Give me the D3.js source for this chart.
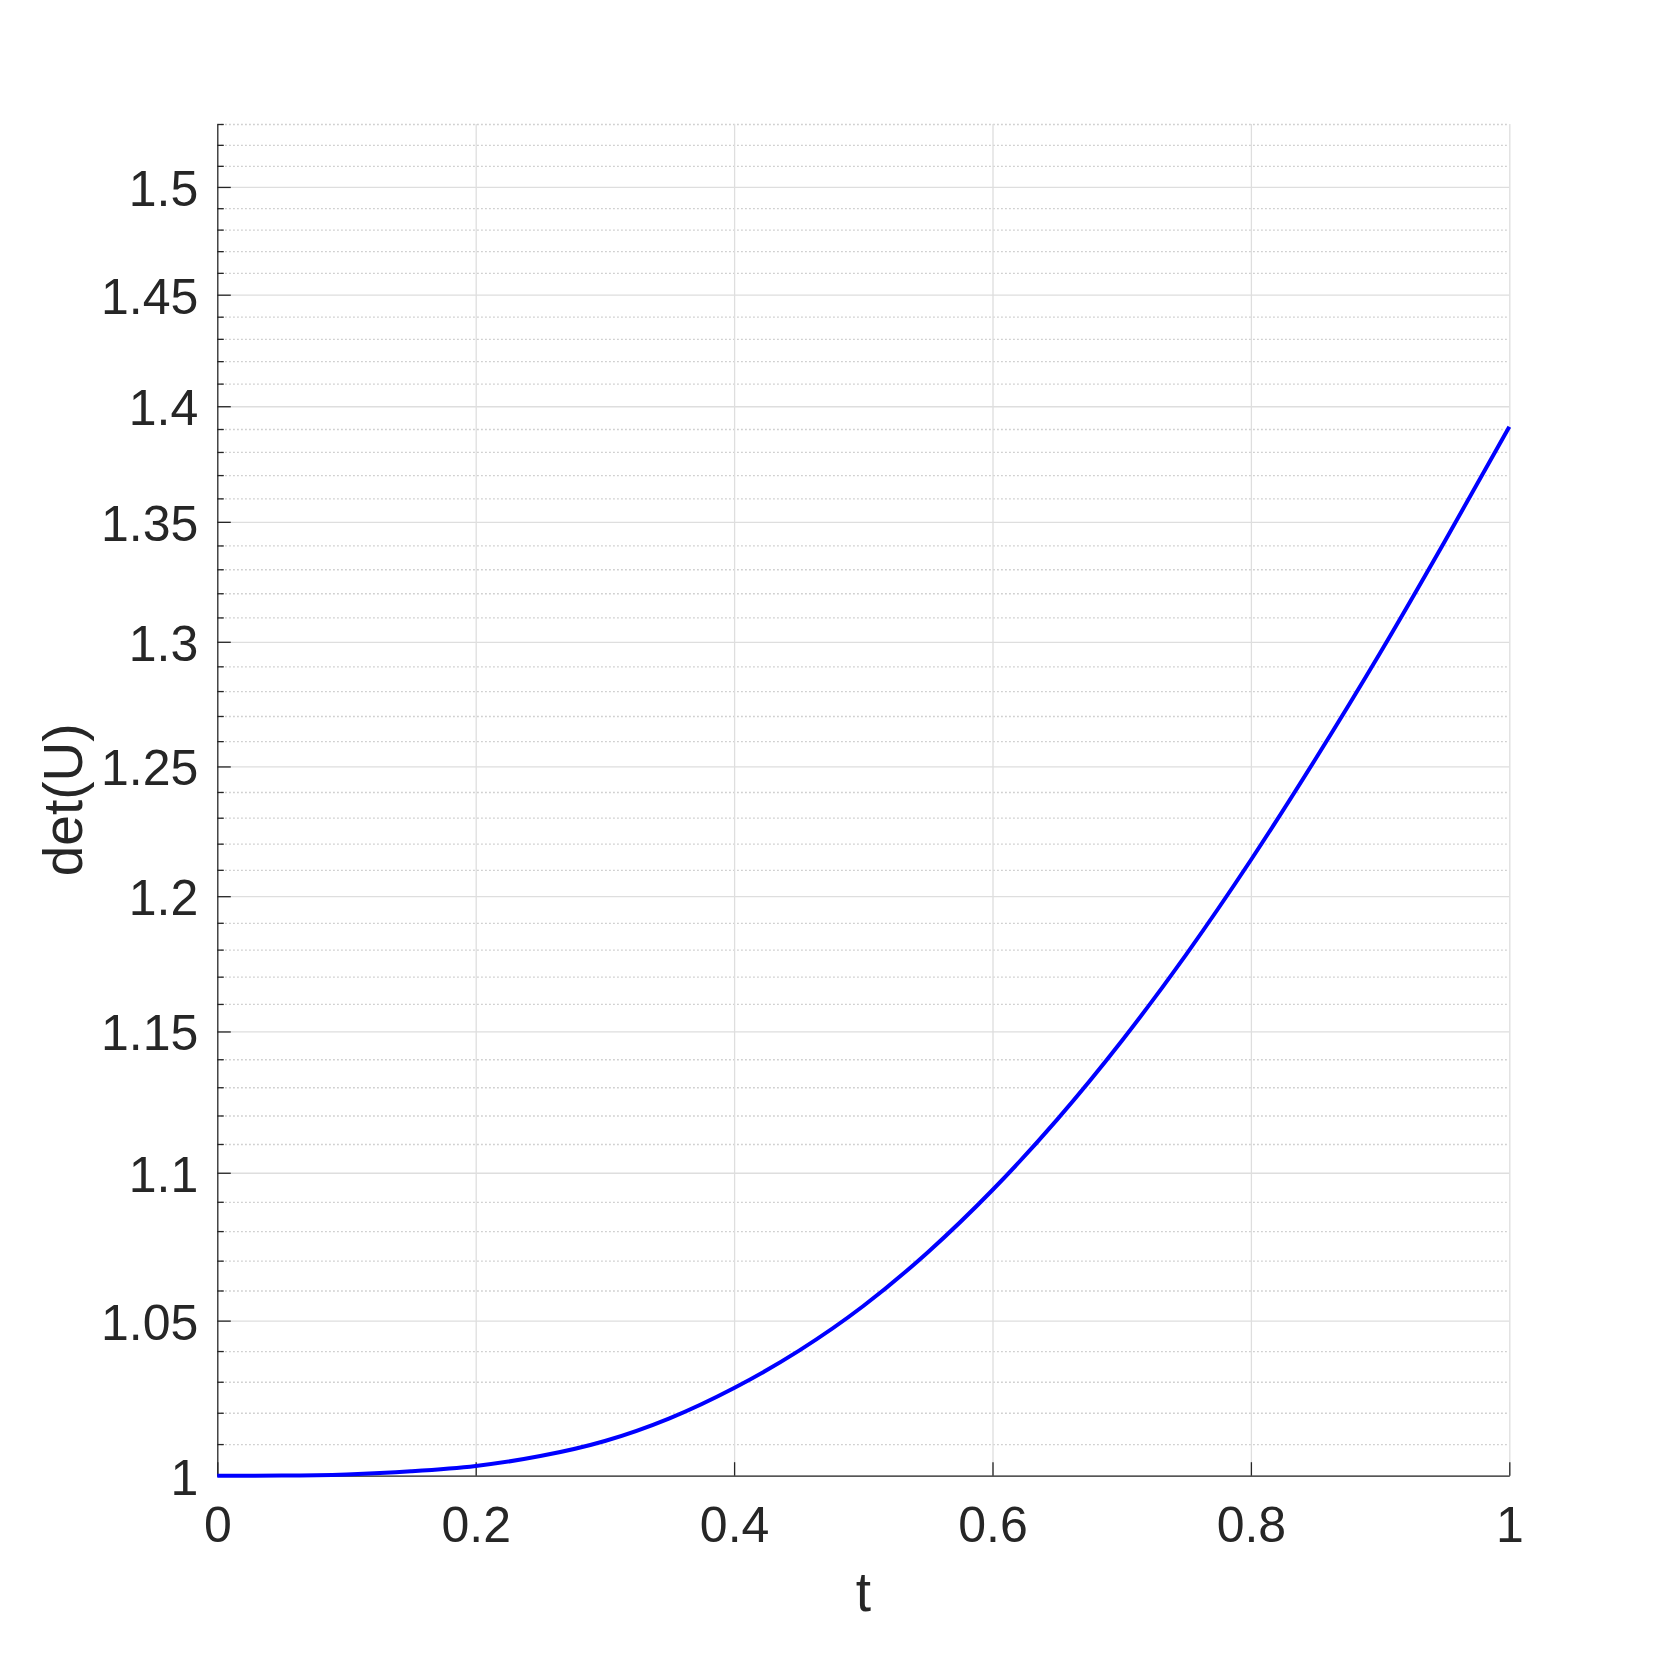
<!DOCTYPE html>
<html>
<head>
<meta charset="utf-8">
<script src="https://cdn.jsdelivr.net/npm/d3@7"></script>
<style>
  body { margin: 0; background: #fff; }
  svg { display: block; font-family: "Liberation Sans", Arial, Helvetica, sans-serif; }
</style>
</head>
<body>
<svg width="1667" height="1658"></svg>
<script>
// data (det(U) against t, log y axis)
var tValues   = [0, 0.05, 0.1, 0.15, 0.2, 0.25, 0.3, 0.35, 0.4, 0.45, 0.5,
                 0.55, 0.6, 0.65, 0.7, 0.75, 0.8, 0.85, 0.9, 0.95, 1];
var detValues = [1.00000, 1.00006, 1.00041, 1.00138, 1.00306, 1.00619, 1.01098, 1.01822, 1.02798, 1.04005, 1.05484,
                 1.07285, 1.09405, 1.11855, 1.14656, 1.17826, 1.21374, 1.25293, 1.29542, 1.34167, 1.39101];

var xTicks = [0, 0.2, 0.4, 0.6, 0.8, 1];
var xTickLabels = ['0', '0.2', '0.4', '0.6', '0.8', '1'];
var yTicks = [1, 1.05, 1.1, 1.15, 1.2, 1.25, 1.3, 1.35, 1.4, 1.45, 1.5];
var yTickLabels = ['1', '1.05', '1.1', '1.15', '1.2', '1.25', '1.3', '1.35', '1.4', '1.45', '1.5'];
var yMinor = [];
for (var i = 1; i <= 53; ++i) {
	if (i % 5 != 0) yMinor.push(1 + i / 100);
}
var yDomain = [1, 1.53];
var xLabel = 't', yLabel = 'det(U)';

var plotLeft = 217.3, plotRight = 1509.3, plotTop = 124, plotBottom = 1475.7;
var ink = '#262626';

var svg = d3.select('svg');
var x = d3.scaleLinear().domain([0, 1]).range([plotLeft, plotRight]);
var y = d3.scaleLog().domain(yDomain).range([plotBottom, plotTop]);

// minor grid (dotted)
var minorGrid = svg.append('g').attr('transform', 'translate(' + plotLeft + ',0)')
	.call(d3.axisLeft(y).tickValues(yMinor).tickSize(-(plotRight - plotLeft)).tickFormat(''));
minorGrid.select('.domain').remove();
minorGrid.selectAll('line').attr('stroke', '#bdbdbd').attr('stroke-width', 1.3).attr('stroke-dasharray', '1.3,2.7');

// major grid
var yGrid = svg.append('g').attr('transform', 'translate(' + plotLeft + ',0)')
	.call(d3.axisLeft(y).tickValues(yTicks).tickSize(-(plotRight - plotLeft)).tickFormat(''));
yGrid.select('.domain').remove();
yGrid.selectAll('line').attr('stroke', '#dedede').attr('stroke-width', 1.3);

var xGrid = svg.append('g').attr('transform', 'translate(0,' + plotBottom + ')')
	.call(d3.axisBottom(x).tickValues(xTicks.slice(1)).tickSize(-(plotBottom - plotTop)).tickFormat(''));
xGrid.select('.domain').remove();
xGrid.selectAll('line').attr('stroke', '#dedede').attr('stroke-width', 1.3);

// axes
var xAxis = svg.append('g').attr('transform', 'translate(0,' + plotBottom + ')')
	.call(d3.axisBottom(x).tickValues(xTicks).tickSizeInner(-13.5).tickSizeOuter(0).tickPadding(30.5)
		.tickFormat(function(d, i){ return xTickLabels[i]; }));

var yMinorTicks = svg.append('g').attr('transform', 'translate(' + plotLeft + ',0)')
	.call(d3.axisLeft(y).tickValues(yMinor).tickSizeInner(-6.5).tickSizeOuter(0).tickFormat(''));
yMinorTicks.select('.domain').remove();

var yAxis = svg.append('g').attr('transform', 'translate(' + plotLeft + ',0)')
	.call(d3.axisLeft(y).tickValues(yTicks).tickSizeInner(-13.5).tickSizeOuter(0).tickPadding(19)
		.tickFormat(function(d, i){ return yTickLabels[i]; }));

[xAxis, yAxis, yMinorTicks].forEach(function(g){
	g.selectAll('.domain').attr('stroke', ink).attr('stroke-width', 1.3);
	g.selectAll('line').attr('stroke', ink).attr('stroke-width', 1.3);
	g.selectAll('text').attr('fill', ink).attr('font-size', 50);
	g.attr('font-family', null);
});
yAxis.selectAll('text').attr('dy', '0.37em');
xAxis.selectAll('text').attr('dy', '0.71em');

// curve
var line = d3.line()
	.x(function(d, i){ return x(tValues[i]); })
	.y(function(d){ return y(d); })
	.curve(d3.curveMonotoneX);

svg.append('path')
	.datum(detValues)
	.attr('fill', 'none')
	.attr('stroke', '#0000ff')
	.attr('stroke-width', 4)
	.attr('stroke-linejoin', 'round')
	.attr('d', line);

// labels
svg.append('text')
	.attr('x', (plotLeft + plotRight) / 2)
	.attr('y', 1610.7)
	.attr('text-anchor', 'middle')
	.attr('font-size', 55)
	.attr('fill', ink)
	.text(xLabel);

svg.append('text')
	.attr('transform', 'translate(82,' + (plotTop + plotBottom) / 2 + ') rotate(-90)')
	.attr('text-anchor', 'middle')
	.attr('font-size', 55)
	.attr('fill', ink)
	.text(yLabel);
</script>
</body>
</html>
